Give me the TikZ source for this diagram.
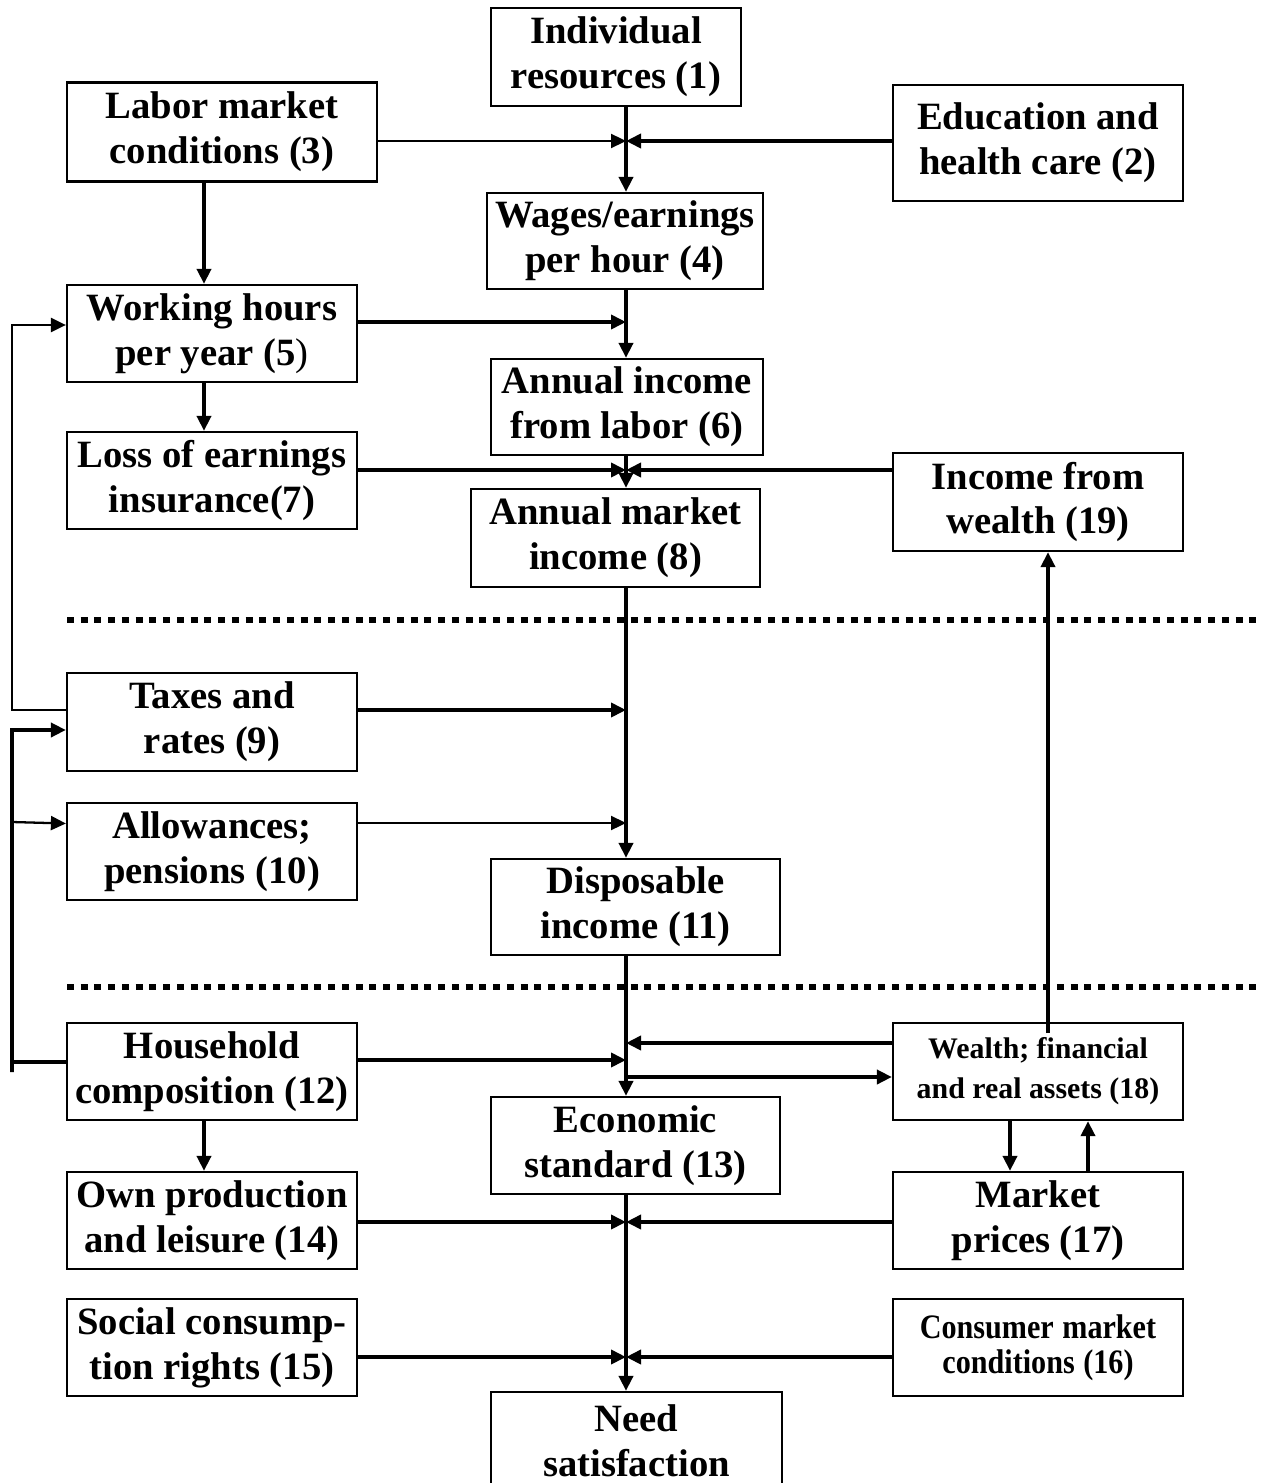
\documentclass[tikz,border=0pt]{standalone}
\usepackage{fontspec}
\setmainfont{Liberation Serif}
\newfontfamily\condensedserif[FakeStretch=0.88]{Liberation Serif}
\usetikzlibrary{positioning, arrows.meta}

\begin{document}
\begin{tikzpicture}[x=0.02cm, y=-0.02cm]

% Styles
\tikzset{
  factor/.style={
    rectangle, draw, line width=1.3pt, inner xsep=0pt, inner ysep=0pt,
    text width=5.8cm, minimum height=1.94cm, align=center,
    font=\fontsize{22}{25.6}\selectfont\bfseries,
    execute at begin node={\spaceskip=0.25em\relax}
  },
  smallfactor/.style={
    factor, font=\fontsize{17}{22.8}\selectfont\bfseries
  },
  narrowfactor/.style={
    factor, font=\condensedserif\fontsize{19.5}{19.8}\selectfont\bfseries
  },
  arrowflow/.style={line width=2.1pt, -{Triangle[length=0.3cm, width=0.28cm]}},
  arrowthin/.style={line width=1.3pt, -{Triangle[length=0.3cm, width=0.28cm]}},
  divider/.style={line width=3.4pt, dash pattern=on 0.14cm off 0.135cm}
}

\useasboundingbox (0,0) rectangle (1262,1483);

% Junctions on the main flow
\coordinate (jA) at (626,141);
\coordinate (jB) at (626,322);
\coordinate (jC) at (626,470);
\coordinate (jD) at (626,710);
\coordinate (jE) at (626,823);
\coordinate (jF) at (626,1043);
\coordinate (jG) at (626,1060);
\coordinate (jH) at (626,1077);
\coordinate (jI) at (626,1222);
\coordinate (jJ) at (626,1357);
\coordinate (lcol) at (204,0);
\coordinate (pdown) at (1010,0);
\coordinate (pup) at (1088,0);
\coordinate (wealthup) at (1048,1033);

% Feedback rail on the left
\coordinate (fbtop) at (12,325);
\coordinate (fbbot) at (12,710);
\coordinate (fbtwotop) at (12,730);
\coordinate (fbtwomid) at (12,822);
\coordinate (fbtwobot) at (12,1062);

% Earnings
\node (res) [factor, text width=5cm, minimum height=1.96cm] at (616,57) {Individual\\resources (1)};
\node (labmkt) [factor, text width=6.2cm, minimum height=1.98cm] at (222,132) {Labor market\\conditions (3)};
\node (edu) [factor, minimum height=2.32cm] at (1038,143) {Education and\\health care (2)};
\node (wages) [factor, text width=5.52cm, minimum height=1.92cm] at (625,241) {Wages/earnings\\per hour (4)};
\node (hours) [factor] at (212,333.5) {Working hours\\per year (5\textmd{)}};
\node (labinc) [factor, text width=5.44cm, minimum height=1.92cm] at (627,407) {Annual income\\from labor (6)};
\node (loss) [factor] at (212,480.5) {Loss of earnings\\insurance(7)};
\node (wealthinc) [factor, minimum height=1.96cm] at (1038,502) {Income from\\wealth (19)};
\node (mktinc) [factor, text width=5.78cm, minimum height=1.96cm] at (615.5,538) {Annual market\\income (8)};

% Transfers
\node (taxes) [factor, minimum height=1.96cm] at (212,722) {Taxes and\\rates (9)};
\node (allow) [factor] at (212,851.5) {Allowances;\\pensions (10)};
\node (dispinc) [factor, text width=5.78cm, minimum height=1.92cm] at (635.5,907) {Disposable\\income (11)};

% Consumption
\node (house) [factor] at (212,1071.5) {Household\\composition (12)};
\node (assets) [smallfactor] at (1038,1071.5) {Wealth; financial\\and real assets (18)};
\node (econ) [factor, text width=5.78cm] at (635.5,1145.5) {Economic\\standard (13)};
\node (ownprod) [factor] at (212,1220.5) {Own production\\and leisure (14)};
\node (prices) [factor] at (1038,1220.5) {Market\\prices (17)};
\node (social) [factor] at (212,1347.5) {Social consump-\\tion rights (15)};
\node (consmkt) [narrowfactor] at (1038,1347.5) {Consumer market\\conditions (16)};
\node (need) [factor, text width=5.82cm] at (636.5,1440.5) {Need\\satisfaction};

% Dividers
\draw[divider] (67,620) -- (1262,620);
\draw[divider] (67,987) -- (1262,987);

% Arrows into wages and labor income
\draw[arrowflow] (res.south -| jA) -- (wages.north -| jA);
\draw[arrowthin] (labmkt.east |- jA) -- (jA);
\draw[arrowflow] (edu.west |- jA) -- (jA);
\draw[arrowflow] (labmkt.south -| lcol) -- (hours.north -| lcol);
\draw[arrowflow] (wages.south -| jA) -- (labinc.north -| jA);
\draw[arrowflow] (hours.east |- jB) -- (jB);
\draw[arrowflow] (hours.south -| lcol) -- (loss.north -| lcol);
\draw[arrowflow] (labinc.south -| jA) -- (mktinc.north -| jA);
\draw[arrowflow] (loss.east |- jC) -- (jC);
\draw[arrowflow] (wealthinc.west |- jC) -- (jC);

% Arrows into disposable income
\draw[arrowflow] (mktinc.south -| jA) -- (dispinc.north -| jA);
\draw[arrowflow] (taxes.east |- jD) -- (jD);
\draw[arrowthin] (allow.east |- jE) -- (jE);

% Feedback from taxes and household
\draw[arrowthin] (taxes.west |- fbbot) -- (fbbot) -- (fbtop) -- (hours.west |- fbtop);
\draw[arrowflow] (house.west |- fbtwobot) -- (fbtwobot) -- ([yshift=-0.2cm]fbtwobot) -- (fbtwotop) -- (taxes.west |- fbtwotop);
\draw[arrowthin] (fbtwomid) -- (allow.west |- 0,823.5);

% Arrows into economic standard
\draw[arrowflow] (dispinc.south -| jA) -- (econ.north -| jA);
\draw[arrowflow] (assets.west |- jF) -- (jF);
\draw[arrowflow] (house.east |- jG) -- (jG);
\draw[arrowflow] (jH) -- (assets.west |- jH);
\draw[arrowflow] (wealthup) -- (wealthup |- wealthinc.south);
\draw[arrowflow] (assets.south -| pdown) -- (prices.north -| pdown);
\draw[arrowflow] (prices.north -| pup) -- (assets.south -| pup);
\draw[arrowflow] (house.south -| lcol) -- (ownprod.north -| lcol);

% Arrows into need satisfaction
\draw[arrowflow] (econ.south -| jA) -- (need.north -| jA);
\draw[arrowflow] (ownprod.east |- jI) -- (jI);
\draw[arrowflow] (prices.west |- jI) -- (jI);
\draw[arrowflow] (social.east |- jJ) -- (jJ);
\draw[arrowflow] (consmkt.west |- jJ) -- (jJ);

\end{tikzpicture}
\end{document}
